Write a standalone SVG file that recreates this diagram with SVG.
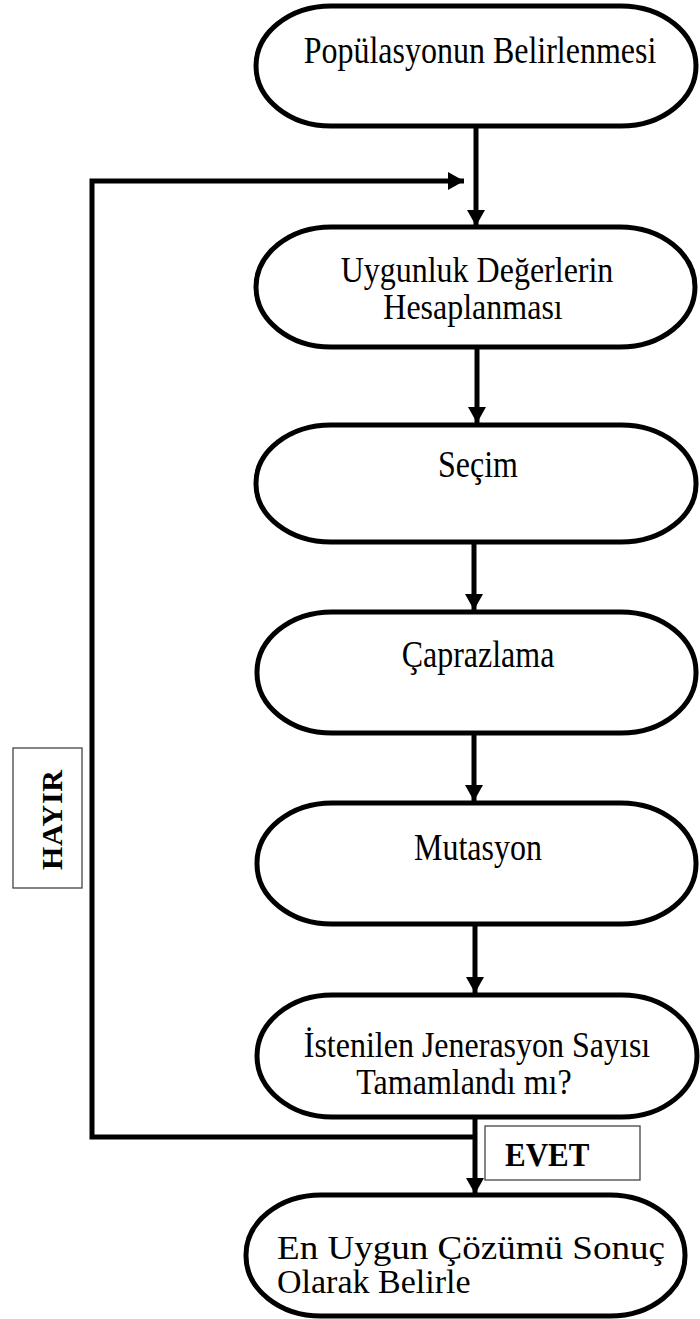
<svg xmlns="http://www.w3.org/2000/svg" width="700" height="1319" viewBox="0 0 700 1319">
<style>
.node{fill:#fff;stroke:#000;stroke-width:5}
.t{font-family:"Liberation Serif","Times New Roman",serif;font-size:32px;fill:#000}
.c{text-anchor:middle}
.b{font-weight:bold}
.lbl{fill:#fff;stroke:#444;stroke-width:1.3}
.conn{fill:none;stroke:#000;stroke-width:5}
</style>
<defs>
<marker id="ah" markerUnits="userSpaceOnUse" viewBox="0 0 16 18" markerWidth="16" markerHeight="18" refX="16" refY="9" orient="auto">
<path d="M0,0 L16,9 L0,18 z" fill="#000"/>
</marker>
</defs>
<g id="connectors">
<line class="conn" x1="476" y1="127" x2="476" y2="226" marker-end="url(#ah)"/>
<line class="conn" x1="477" y1="347" x2="477" y2="423" marker-end="url(#ah)"/>
<line class="conn" x1="474" y1="542" x2="474" y2="610" marker-end="url(#ah)"/>
<line class="conn" x1="474" y1="733" x2="474" y2="801" marker-end="url(#ah)"/>
<line class="conn" x1="475" y1="924" x2="475" y2="993" marker-end="url(#ah)"/>
<line class="conn" x1="475" y1="1117" x2="475" y2="1194" marker-end="url(#ah)"/>
<polyline class="conn" points="477,1137 92,1137 92,181 464,181" marker-end="url(#ah)"/>
</g>
<g id="n1">
<rect class="node" x="256" y="6" width="440" height="120" rx="75" ry="60"/>
<text class="t c" transform="translate(480,63) scale(1,1.2)">Popülasyonun Belirlenmesi</text>
</g>
<g id="n2">
<rect class="node" x="256" y="227" width="439" height="120" rx="75" ry="60"/>
<text class="t c" transform="translate(477,282) scale(1,1.1)">Uygunluk Değerlerin</text>
<text class="t c" transform="translate(473,319) scale(1,1.1)">Hesaplanması</text>
</g>
<g id="n3">
<rect class="node" x="256" y="425" width="440" height="117" rx="75" ry="58"/>
<text class="t c" transform="translate(478,477) scale(1,1.2)">Seçim</text>
</g>
<g id="n4">
<rect class="node" x="257" y="612" width="439" height="121" rx="75" ry="60"/>
<text class="t c" transform="translate(478,667) scale(1,1.2)">Çaprazlama</text>
</g>
<g id="n5">
<rect class="node" x="257" y="803" width="439" height="121" rx="75" ry="60"/>
<text class="t c" transform="translate(478,860) scale(1,1.2)">Mutasyon</text>
</g>
<g id="n6">
<rect class="node" x="257" y="995" width="440" height="122" rx="75" ry="61"/>
<text class="t c" transform="translate(477,1057) scale(1,1.1)">İstenilen Jenerasyon Sayısı</text>
<text class="t c" transform="translate(464,1094) scale(1,1.1)">Tamamlandı mı?</text>
</g>
<g id="n7">
<rect class="node" x="246" y="1195" width="439" height="121" rx="75" ry="60"/>
<text class="t" x="277" y="1259" style="font-size:34px" textLength="388" lengthAdjust="spacingAndGlyphs">En Uygun Çözümü Sonuç</text>
<text class="t" x="277" y="1293" style="font-size:34px">Olarak Belirle</text>
</g>
<g id="hayir">
<rect class="lbl" x="13" y="748" width="69" height="140"/>
<text class="t b c" transform="translate(62,820) rotate(-90)" style="font-size:30px" textLength="100" lengthAdjust="spacing">HAYIR</text>
</g>
<g id="evet">
<rect class="lbl" x="485" y="1126" width="155" height="54"/>
<text class="t b" transform="translate(505,1166) scale(1,1.1)" style="font-size:31px">EVET</text>
</g>
</svg>
